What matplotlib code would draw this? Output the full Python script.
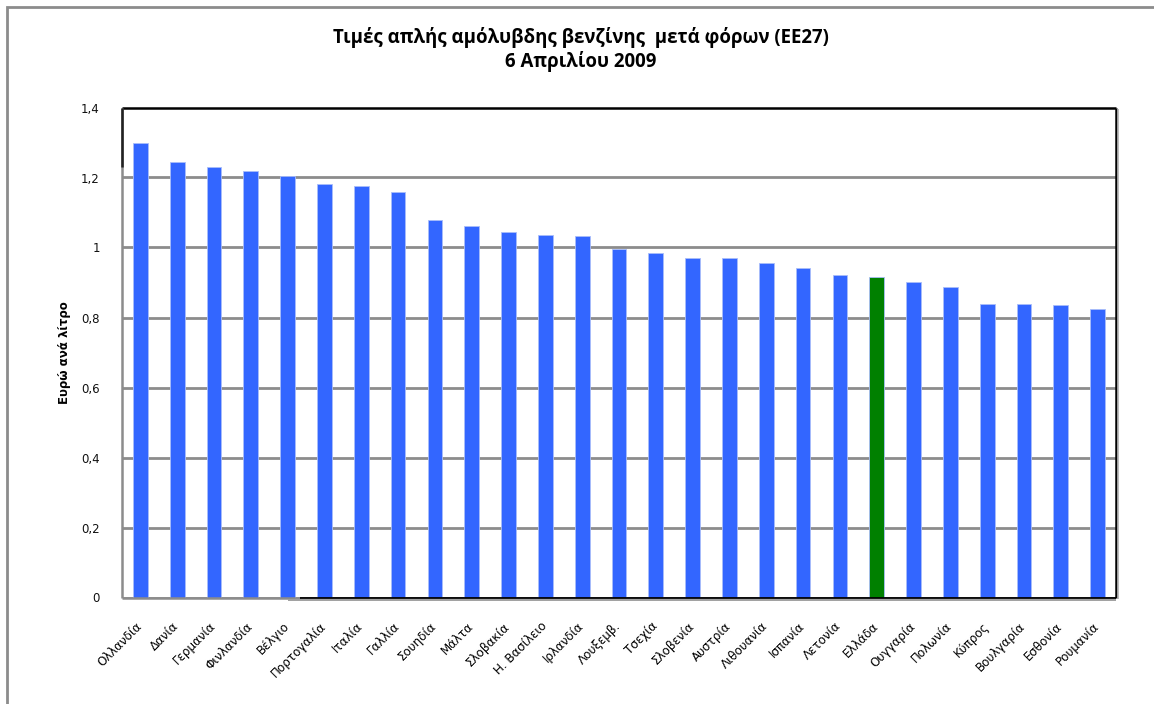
import matplotlib
matplotlib.use("Agg")
import matplotlib.pyplot as plt
from matplotlib.patches import Rectangle
from matplotlib.lines import Line2D
from matplotlib.ticker import MultipleLocator, FuncFormatter
from matplotlib.transforms import ScaledTranslation

countries = ["Ολλανδία", "Δανία", "Γερμανία", "Φινλανδία", "Βέλγιο", "Πορτογαλία",
             "Ιταλία", "Γαλλία", "Σουηδία", "Μάλτα", "Σλοβακία", "Η. Βασίλειο",
             "Ιρλανδία", "Λουξεμβ.", "Τσεχία", "Σλοβενία", "Αυστρία", "Λιθουανία",
             "Ισπανία", "Λετονία", "Ελλάδα", "Ουγγαρία", "Πολωνία", "Κύπρος",
             "Βουλγαρία", "Εσθονία", "Ρουμανία"]
prices = [1.298, 1.243, 1.229, 1.219, 1.205, 1.182, 1.175, 1.159, 1.078, 1.061,
          1.044, 1.037, 1.033, 0.997, 0.983, 0.970, 0.969, 0.956, 0.942, 0.921,
          0.915, 0.902, 0.888, 0.839, 0.839, 0.835, 0.823]
highlight = "Ελλάδα"

title = "Τιμές απλής αμόλυβδης βενζίνης  μετά φόρων (ΕΕ27)\n6 Απριλίου 2009"
ylabel = "Ευρώ ανά λίτρο"

W, H = 1154, 704
fig = plt.figure(figsize=(W / 100, H / 100), dpi=100)
fig.patch.set_facecolor("white")

# outer chart-area frame (top and left edges visible)
fig.add_artist(Rectangle((7 / W, -0.05), 1.2, (H - 7) / H + 0.05,
                         transform=fig.transFigure, fill=False,
                         edgecolor="#8c8c8c", linewidth=2.0))

left, right, top, bottom = 122, 1116, 107.5, 597.5
ax = fig.add_axes([left / W, 1 - bottom / H, (right - left) / W, (bottom - top) / H])
ax.set_axisbelow(True)

colors = ["#008000" if c == highlight else "#3366FF" for c in countries]
x = list(range(len(countries)))
ax.bar(x, prices, width=0.4, color=colors, edgecolor="#a9bdfa", linewidth=0.6, zorder=3)

ax.set_xlim(-0.5, len(countries) - 0.5)
ax.set_ylim(0, 1.4)
ax.yaxis.set_major_locator(MultipleLocator(0.2))
ax.yaxis.set_major_formatter(FuncFormatter(
    lambda v, p: "0" if abs(v) < 1e-9 else ("1" if abs(v - 1) < 1e-9 else f"{v:.1f}".replace(".", ","))))
ax.grid(axis="y", color="#8c8c8c", linewidth=2.0, zorder=1)
ax.tick_params(axis="y", length=0, pad=16, labelsize=8.5, labelcolor="#111111")
ax.tick_params(axis="x", length=0, pad=16)

ax.set_xticks(x)
ax.set_xticklabels(countries, rotation=45, ha="right", va="top",
                   rotation_mode="anchor", fontsize=8.6, family="DejaVu Sans")
shift = ScaledTranslation(-5 / 100, 0, fig.dpi_scale_trans)
for lbl in ax.get_xticklabels():
    lbl.set_transform(lbl.get_transform() + shift)

ax.set_ylabel(ylabel, fontsize=8.5, fontweight="bold", labelpad=7)

for s in ax.spines.values():
    s.set_visible(False)

# plot-area border: black top/right, mixed left/bottom
kw = dict(transform=ax.transAxes, clip_on=False, zorder=5, solid_capstyle="butt")
ax.add_line(Line2D([0, 1], [1, 1], color="black", linewidth=1.8, **kw))
ax.add_line(Line2D([1, 1], [0, 1], color="black", linewidth=1.8, **kw))
ax.add_line(Line2D([1.0025, 1.0025], [-0.004, 0.997], color="#b0b0b0", linewidth=1.2, **kw))
ax.add_line(Line2D([0, 0], [0, 1], color="#8c8c8c", linewidth=1.8, **kw))
ax.add_line(Line2D([0, 0], [1.23 / 1.4, 1], color="#222222", linewidth=1.8, **kw))
split = (300 - left) / (right - left)
ax.add_line(Line2D([0, split], [0, 0], color="#8c8c8c", linewidth=1.8, **kw))
ax.add_line(Line2D([split - 0.012, 1], [-0.005, -0.005], color="#a0a0a0", linewidth=1.4, **kw))
ax.add_line(Line2D([split, 1], [0, 0], color="black", linewidth=1.3, **kw))

fig.text(581 / W, 1 - 49.5 / H, title, ha="center", va="center", fontsize=13.4,
         fontweight="bold", family="Open Sans", linespacing=1.15)

fig.savefig("out.png", dpi=100, facecolor="white")
